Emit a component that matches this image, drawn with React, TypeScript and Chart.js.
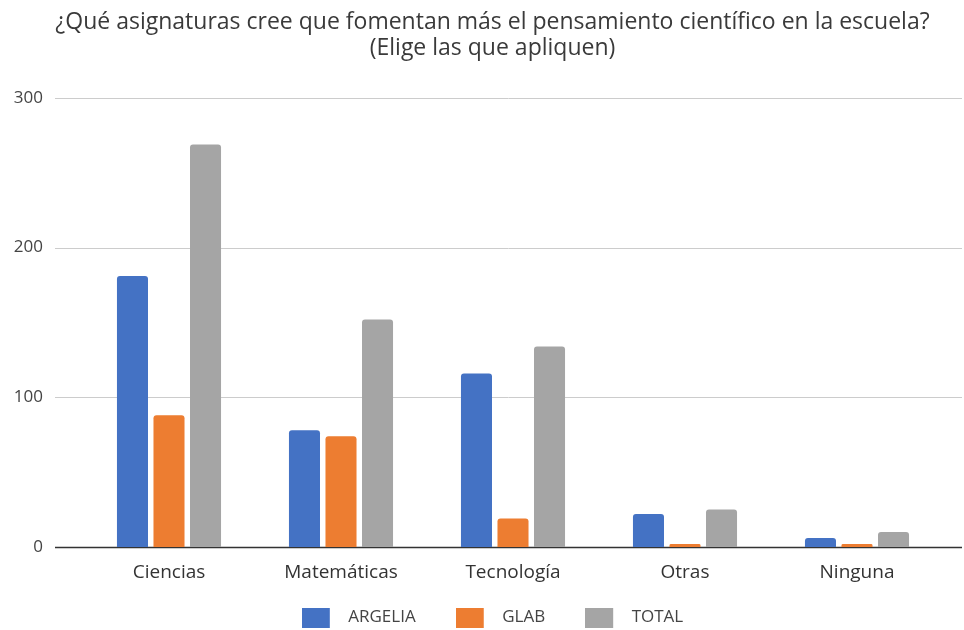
import React, { useEffect, useRef } from "react";
import { Chart, registerables } from "chart.js";

Chart.register(...registerables);

const categories = ["Ciencias", "Matemáticas", "Tecnología", "Otras", "Ninguna"];
const argelia = [181, 78, 116, 22, 6];
const glab = [88, 74, 19, 2, 2];
const total = [269, 152, 134, 25, 10];
const seriesLabels = ["ARGELIA", "GLAB", "TOTAL"];
const seriesColors = ["#4472C4", "#ED7D31", "#A5A5A5"];
const titleLines = [
  "¿Qué asignaturas cree que fomentan más el pensamiento científico en la escuela?",
  "(Elige las que apliquen)",
];
const yTicks = [0, 100, 200, 300];

const FONT = "'Open Sans', 'Noto Sans', sans-serif";

function legendSwatch(color: string) {
  const c = document.createElement("canvas");
  c.width = 38;
  c.height = 20;
  const g = c.getContext("2d")!;
  g.fillStyle = color;
  g.fillRect(0, 0, 28, 20);
  return c;
}

const gridPlugin = {
  id: "wideGrid",
  beforeLayout(chart: any) {
    const legend = chart.legend;
    if (legend && !legend.__patched) {
      const orig = legend.fit;
      legend.fit = function () {
        orig.call(this);
        this.height = 46;
      };
      legend.__patched = true;
    }
  },
  afterLayout(chart: any) {
    const legend = chart.legend;
    if (legend) {
      legend.top -= 15;
      legend.height = legend.bottom - legend.top;
      legend.left += 21;
      legend.right += 21;
    }
    const title = chart.titleBlock;
    if (title) {
      title.left += 21;
      title.right += 21;
    }
  },
  beforeDatasetsDraw(chart: any) {
    const ctx = chart.ctx;
    const y = chart.scales.y;
    ctx.save();
    for (const v of yTicks) {
      const py = Math.round(y.getPixelForValue(v)) + 0.5;
      ctx.beginPath();
      ctx.moveTo(55, py);
      ctx.lineTo(962, py);
      ctx.lineWidth = v === 0 ? 1.5 : 1;
      ctx.strokeStyle = v === 0 ? "#333333" : "#cccccc";
      ctx.stroke();
    }
    ctx.restore();
  },
};

export default function App() {
  const ref = useRef<HTMLCanvasElement | null>(null);
  useEffect(() => {
    document.body.style.margin = "0";
    const seriesData = [argelia, glab, total];
    const swatches = seriesColors.map(legendSwatch);
    const chart = new Chart(ref.current!, {
      type: "bar",
      data: {
        labels: categories,
        datasets: seriesLabels.map((label, i) => ({
          label,
          data: seriesData[i],
          backgroundColor: seriesColors[i],
          pointStyle: swatches[i] as any,
          borderRadius: { topLeft: 3, topRight: 3, bottomLeft: 0, bottomRight: 0 },
          borderSkipped: "bottom" as const,
          categoryPercentage: 0.637,
          barPercentage: 0.85,
        })),
      },
      options: {
        animation: false,
        responsive: false,
        maintainAspectRatio: false,
        layout: { padding: { left: 0, right: 21, top: 0, bottom: 0 } },
        plugins: {
          title: {
            display: true,
            text: titleLines,
            color: "#3a3a3a",
            font: { family: FONT, size: 23, weight: "normal" as const, lineHeight: 1.13 },
            padding: { top: 9, bottom: 37 },
          },
          legend: {
            position: "bottom",
            labels: {
              usePointStyle: true,
              pointStyleWidth: 38,
              boxHeight: 20,
              padding: 40,
              color: "#444444",
              font: { family: FONT, size: 17 },
            },
          },
          tooltip: { enabled: false },
        },
        scales: {
          x: {
            grid: { display: false },
            border: { display: false },
            afterFit(scale: any) {
              scale.height = 37;
            },
            ticks: { color: "#333333", font: { family: FONT, size: 19 }, padding: 6 },
          },
          y: {
            min: 0,
            max: 300,
            afterFit(scale: any) {
              scale.width = 83;
            },
            afterBuildTicks(scale: any) {
              scale.ticks = yTicks.map((v) => ({ value: v }));
            },
            grid: { display: false },
            border: { display: false },
            ticks: { color: "#444444", font: { family: FONT, size: 17 }, padding: 32 },
          },
        },
      },
      plugins: [gridPlugin],
    });
    return () => chart.destroy();
  }, []);
  return (
    <div style={{ width: 964, height: 630 }}>
      <canvas ref={ref} width={964} height={630} style={{ display: "block" }} />
    </div>
  );
}
